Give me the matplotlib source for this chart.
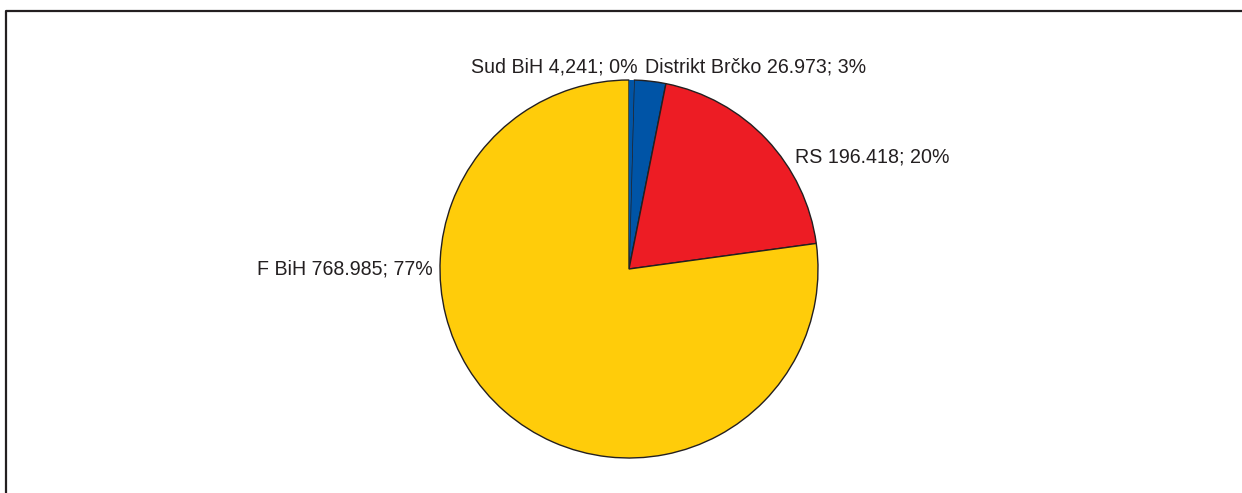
import matplotlib.pyplot as plt
from matplotlib.lines import Line2D

# data
names = ["Sud BiH", "Distrikt Brčko", "RS", "F BiH"]
values = [4.241, 26.973, 196.418, 768.985]
value_labels = ["4,241", "26.973", "196.418", "768.985"]
colors = ["#0054A6", "#0054A6", "#ED1C24", "#FFCC0A"]

plt.rcParams['font.family'] = ['Liberation Sans Narrow', 'Liberation Sans', 'DejaVu Sans']

fig = plt.figure(figsize=(12.42, 4.93), dpi=100)
ax = fig.add_axes([0, 0, 1, 1])
r_px = 189.0

wedges, _ = ax.pie(values, colors=colors, startangle=90, counterclock=False,
                   radius=1.0, center=(0, 0), frame=True,
                   wedgeprops=dict(edgecolor="#231F20", linewidth=1.0))
ax.set_aspect('equal')
ax.axis('off')
ax.set_xlim(-629 / r_px, (1242 - 629) / r_px)
ax.set_ylim(-(493 - 269) / r_px, 269 / r_px)
# tiny Sud BiH slice is not separated in the original
wedges[0].set_edgecolor('none')
wedges[0].set_zorder(wedges[1].get_zorder() + 1)

total = sum(values)
texts = [f"{n} {v}; {round(100 * x / total):.0f}%" for n, v, x in zip(names, value_labels, values)]

label_pos = [(-0.394, 1.07, 'center'), (0.672, 1.07, 'center'),
             (0.878, 0.595, 'left'), (-1.04, 0.0, 'right')]
for t, (x, y, ha) in zip(texts, label_pos):
    ax.text(x, y, t, ha=ha, va='center', fontsize=14.1, color="#231F20")

# outer frame (partly cut off in the original)
fig.add_artist(Line2D([6 / 1242, 6 / 1242, 1.01], [-0.01, 1 - 11 / 493, 1 - 11 / 493],
                      transform=fig.transFigure, color="#231F20", linewidth=1.6))

fig.savefig("out.png", dpi=100)
